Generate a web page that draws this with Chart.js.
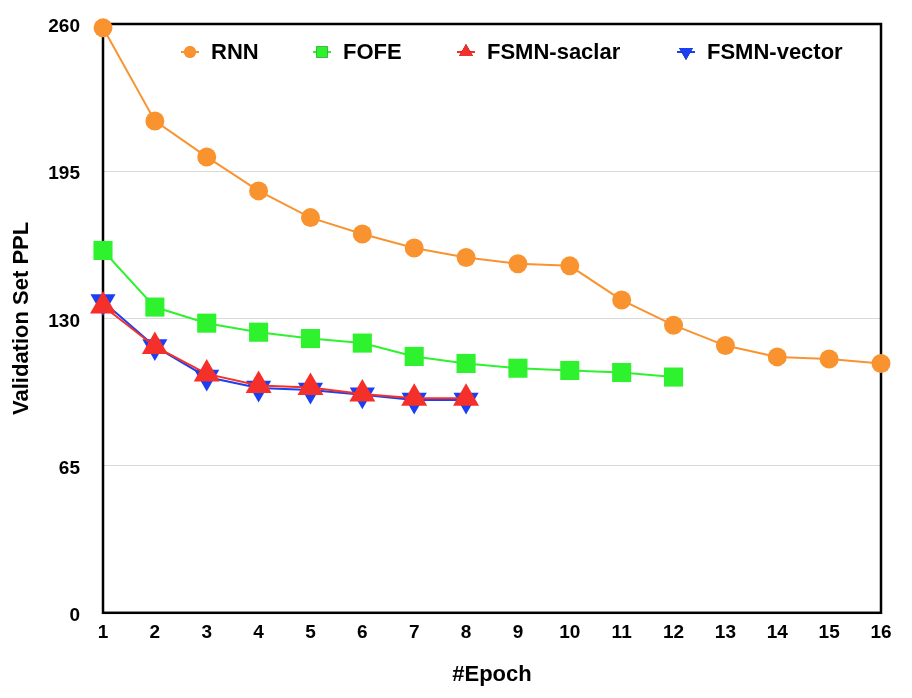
<!DOCTYPE html>
<html>
<head>
<meta charset="utf-8">
<script src="https://cdn.jsdelivr.net/npm/chart.js@4.4.1/dist/chart.umd.min.js"></script>
<style>
  html, body { margin: 0; padding: 0; background: #fff; }
  #wrap { width: 912px; height: 698px; }
</style>
</head>
<body>
<div id="wrap"><canvas id="pplChart"></canvas></div>
<script>
const epochs = ["1", "2", "3", "4", "5", "6", "7", "8", "9", "10", "11", "12", "13", "14", "15", "16"];
const rnn = [258.3, 217.2, 201.3, 186.3, 174.5, 167.3, 161.1, 156.9, 154.1, 153.2, 138.1, 127.0, 118.0, 113.0, 112.1, 110.1];
const fofe = [160.0, 135.0, 127.9, 123.9, 121.1, 119.1, 113.2, 110.1, 108.0, 107.0, 106.1, 104.1];
const fsmnScalar = [135.5, 117.6, 105.5, 100.4, 99.5, 96.6, 94.7, 94.7];
const fsmnVector = [137.5, 117.6, 104.1, 99.3, 98.4, 96.3, 94.0, 94.0];
const yTicks = [0, 65, 130, 195, 260];

const FONT = "'Liberation Sans', Arial, Helvetica, sans-serif";

// black frame round the plot, under the marks
const framePlugin = {
  id: "frame",
  beforeDatasetsDraw(chart) {
    const { ctx, chartArea: a } = chart;
    ctx.save();
    ctx.strokeStyle = "#000";
    ctx.lineWidth = 2.5;
    ctx.strokeRect(a.left, a.top, a.right - a.left, a.bottom - a.top);
    ctx.restore();
  },
};

// legend drawn inside the plot, one row
const innerLegend = {
  id: "innerLegend",
  afterDatasetsDraw(chart) {
    const { ctx, chartArea: a } = chart;
    const offsets = [87, 219, 363, 583];
    const y = a.top + 28;
    ctx.save();
    chart.data.datasets.forEach((ds, i) => {
      const x = a.left + offsets[i];
      ctx.strokeStyle = ds.borderColor;
      ctx.lineWidth = 2;
      ctx.beginPath();
      ctx.moveTo(x - 9, y);
      ctx.lineTo(x + 9, y);
      ctx.stroke();
      Chart.helpers.drawPoint(ctx, {
        pointStyle: ds.pointStyle,
        radius: ds.pointStyle === "circle" ? 6 : 8,
        rotation: ds.rotation || 0,
        borderWidth: 0,
      }, x, y);
      ctx.fillStyle = ds.backgroundColor;
      ctx.fill();
      ctx.fillStyle = "#000";
      ctx.font = "bold 22px " + FONT;
      ctx.textBaseline = "middle";
      ctx.textAlign = "left";
      ctx.fillText(ds.label, x + 21, y + 1);
    });
    ctx.restore();
  },
};

function series(label, data, color, style, radius, rotation) {
  return {
    label: label,
    data: data,
    borderColor: color,
    backgroundColor: color,
    pointBackgroundColor: color,
    pointBorderColor: color,
    pointBorderWidth: 0,
    pointStyle: style,
    pointRadius: radius,
    pointHoverRadius: radius,
    pointRotation: rotation || 0,
    rotation: rotation || 0,
    borderWidth: 2,
    tension: 0,
    clip: false,
  };
}

const ctx = document.getElementById("pplChart").getContext("2d");
new Chart(ctx, {
  type: "line",
  data: {
    labels: epochs,
    datasets: [
      series("RNN", rnn, "#F99330", "circle", 9.5),
      series("FOFE", fofe, "#2EF22E", "rect", 13.5),
      series("FSMN-saclar", fsmnScalar, "#F5302A", "triangle", 15),
      series("FSMN-vector", fsmnVector, "#1B3FF2", "triangle", 14.5, 180),
    ],
  },
  options: {
    responsive: true,
    maintainAspectRatio: false,
    animation: false,
    layout: { padding: { top: 24, right: 31, bottom: 10, left: 9 } },
    plugins: {
      legend: { display: false },
      tooltip: { enabled: false },
    },
    scales: {
      x: {
        offset: false,
        border: { display: false },
        grid: { display: false, drawTicks: false },
        ticks: {
          color: "#000",
          padding: 9,
          maxRotation: 0,
          autoSkip: false,
          font: { family: FONT, size: 19, weight: "bold" },
        },
        title: {
          display: true,
          text: "#Epoch",
          color: "#000",
          padding: { top: 8, bottom: 0 },
          font: { family: FONT, size: 22, weight: "bold" },
        },
      },
      y: {
        min: 0,
        max: 260,
        border: { display: false },
        afterBuildTicks: (axis) => {
          axis.ticks = yTicks.map((v) => ({ value: v }));
        },
        afterFit: (axis) => {
          axis.width = 94;
          axis.paddingTop = 0;
          axis.paddingBottom = 0;
        },
        grid: {
          color: "#d9d9d9",
          lineWidth: 1,
          drawTicks: false,
        },
        ticks: {
          color: "#000",
          padding: 23,
          labelOffset: 3,
          font: { family: FONT, size: 19, weight: "bold" },
        },
        title: {
          display: true,
          text: "Validation Set PPL",
          color: "#000",
          padding: { top: 0, bottom: 0 },
          font: { family: FONT, size: 22, weight: "bold" },
        },
      },
    },
  },
  plugins: [framePlugin, innerLegend],
});
</script>
</body>
</html>
